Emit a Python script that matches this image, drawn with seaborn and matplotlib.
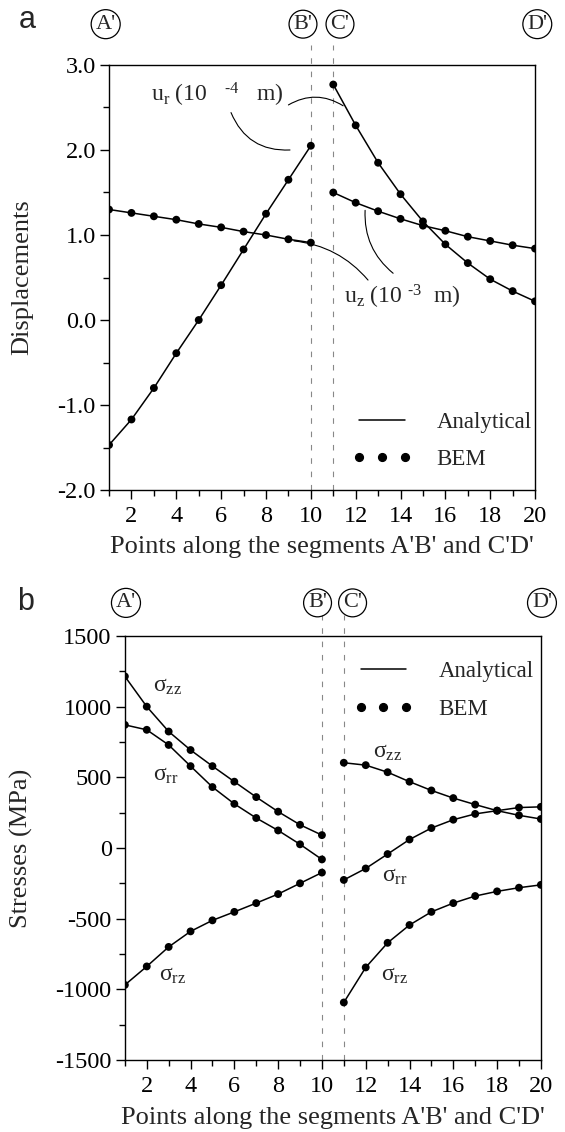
import matplotlib
matplotlib.use('Agg')
import matplotlib.pyplot as plt
import matplotlib.transforms as mtransforms
from matplotlib.lines import Line2D
from matplotlib.ticker import MultipleLocator, FormatStrFormatter
import seaborn as sns

# Points along the segments A'B' (1-10) and C'D' (11-20)
x_ab = [1, 2, 3, 4, 5, 6, 7, 8, 9, 10]
x_cd = [11, 12, 13, 14, 15, 16, 17, 18, 19, 20]

# (a) displacements: ur in 1e-4 m, uz in 1e-3 m
ur_ab = [-1.47, -1.17, -0.80, -0.39, 0.00, 0.41, 0.83, 1.25, 1.65, 2.05]
ur_cd = [2.77, 2.29, 1.85, 1.48, 1.16, 0.89, 0.67, 0.48, 0.34, 0.22]
uz_ab = [1.30, 1.26, 1.22, 1.18, 1.13, 1.09, 1.04, 1.00, 0.95, 0.91]
uz_cd = [1.50, 1.38, 1.28, 1.19, 1.11, 1.05, 0.98, 0.93, 0.88, 0.84]

# (b) stresses in MPa
szz_ab = [1214, 1000, 824, 693, 579, 469, 360, 257, 164, 91]
srr_ab = [871, 836, 729, 579, 431, 312, 212, 124, 26, -81]
srz_ab = [-969, -838, -700, -590, -512, -452, -390, -326, -250, -174]
szz_cd = [603, 586, 536, 469, 407, 353, 307, 264, 231, 205]
srr_cd = [-226, -145, -43, 60, 141, 200, 241, 264, 286, 291]
srz_cd = [-1093, -845, -671, -545, -452, -390, -340, -307, -281, -261]

point_names = ["A'", "B'", "C'", "D'"]

sns.set_theme(style='ticks')
plt.rcParams.update({
    'font.size': 16,
    'axes.unicode_minus': False,
    'axes.linewidth': 1.0,
    'axes.edgecolor': 'black',
    'xtick.color': 'black',
    'ytick.color': 'black',
    'xtick.direction': 'out',
    'ytick.direction': 'out',
    'mathtext.fontset': 'custom',
    'mathtext.rm': 'Liberation Serif',
    'mathtext.it': 'Liberation Serif:italic',
})
plt.rcParams['font.family'] = ['Liberation Serif', 'DejaVu Serif']

fig = plt.figure(figsize=(5.65, 11.32), dpi=100)
ax_a = fig.add_axes([0.193, 0.5671, 0.754, 0.3755])
ax_b = fig.add_axes([0.221, 0.0636, 0.7363, 0.3746])


def draw_series(ax, x, y):
    sns.lineplot(x=x, y=y, ax=ax, color='black', lw=1.1, legend=False)
    sns.scatterplot(x=x, y=y, ax=ax, color='black', s=32, edgecolor='none',
                    legend=False, zorder=3)


def style_axes(ax, ymaj, ymin, fmt):
    ax.set_xlim(1, 20)
    ax.xaxis.set_major_locator(MultipleLocator(2))
    ax.xaxis.set_minor_locator(MultipleLocator(1))
    ax.yaxis.set_major_locator(MultipleLocator(ymaj))
    ax.yaxis.set_minor_locator(MultipleLocator(ymin))
    ax.yaxis.set_major_formatter(FormatStrFormatter(fmt))
    ax.tick_params(which='major', length=6.5, width=1.0, labelsize=17.5)
    ax.tick_params(axis='x', which='major', pad=5)
    ax.tick_params(axis='y', which='major', pad=3)
    ax.tick_params(which='minor', length=4.5, width=1.0)
    for s in ax.spines.values():
        s.set_visible(True)
        s.set_color('black')
    ax.set_xlabel("Points along the segments A'B' and C'D'", fontsize=19)


def marks(ax, label_x, label_y, dash_top):
    trans = mtransforms.blended_transform_factory(ax.transData, ax.transAxes)
    for xv in (10, 11):
        ax.axvline(xv, ymin=0, ymax=dash_top, color='#888888', lw=0.8,
                   ls=(0, (5, 7)), clip_on=False, zorder=1)
    for name, xv in zip(point_names, label_x):
        ax.text(xv, label_y, name, transform=trans, ha='center', va='center',
                fontsize=16,
                bbox=dict(boxstyle='circle,pad=0.2', fc='none', ec='black', lw=0.9))


def leader(ax, start, end, rad):
    ax.annotate('', xy=end, xytext=start,
                arrowprops=dict(arrowstyle='-', lw=0.8, color='black',
                                connectionstyle=f'arc3,rad={rad}',
                                shrinkA=0, shrinkB=0))


legend_handles = [Line2D([], [], color='black', lw=1.1),
                  Line2D([], [], color='black', marker='o', ls='none', ms=5.6)]

# ---- panel a ----
for xs, ys in [(x_ab, ur_ab), (x_cd, ur_cd), (x_ab, uz_ab), (x_cd, uz_cd)]:
    draw_series(ax_a, xs, ys)
style_axes(ax_a, 1.0, 0.5, '%.1f')
ax_a.set_ylim(-2.0, 3.0)
ax_a.set_ylabel('Displacements', fontsize=19)
ax_a.yaxis.set_label_coords(-0.178, 0.5)
ax_a.xaxis.set_label_coords(0.5, -0.108)
marks(ax_a, [0.85, 9.65, 11.3, 20.1], 1.096, 1.047)

ax_a.text(5.85, 2.65, 'u$_\\mathregular{r}$ (10   $^{\\mathregular{\u2011 4}}$   m)',
          ha='center', va='center', fontsize=17)
leader(ax_a, (6.44, 2.44), (9.07, 2.0), 0.35)
leader(ax_a, (9.0, 2.53), (11.44, 2.52), -0.3)
ax_a.text(14.1, 0.27, 'u$_\\mathregular{z}$ (10 $^{\\mathregular{\u2011 3}}$  m)',
          ha='center', va='center', fontsize=17)
leader(ax_a, (9.25, 0.93), (12.55, 0.47), -0.2)
leader(ax_a, (12.42, 1.29), (13.67, 0.55), 0.25)

ax_a.legend(legend_handles, ['Analytical', 'BEM'], loc='lower left',
            bbox_to_anchor=(0.57, 0.047), frameon=False, numpoints=3,
            handlelength=2.6, handletextpad=1.1, labelspacing=0.7,
            fontsize=16.5, borderpad=0, borderaxespad=0)

# ---- panel b ----
for xs, ys in [(x_ab, szz_ab), (x_ab, srr_ab), (x_ab, srz_ab),
               (x_cd, szz_cd), (x_cd, srr_cd), (x_cd, srz_cd)]:
    draw_series(ax_b, xs, ys)
style_axes(ax_b, 500, 250, '%d')
ax_b.set_ylim(-1500, 1500)
ax_b.set_ylabel('Stresses (MPa)', fontsize=19)
ax_b.yaxis.set_label_coords(-0.221, 0.5)
ax_b.xaxis.set_label_coords(0.5, -0.111)
marks(ax_b, [1.05, 9.8, 11.4, 20.05], 1.078, 1.05)

for tx, ty, sub in [(2.96, 1139, 'zz'), (13.0, 672, 'zz'),
                    (2.87, 516, 'rr'), (13.33, -205, 'rr'),
                    (3.2, -899, 'rz'), (13.33, -899, 'rz')]:
    ax_b.text(tx, ty, 'σ$_\\mathregular{' + sub + '}$', ha='center',
              va='center', fontsize=17)

ax_b.legend(legend_handles, ['Analytical', 'BEM'], loc='upper left',
            bbox_to_anchor=(0.55, 0.94), frameon=False, numpoints=3,
            handlelength=2.6, handletextpad=1.1, labelspacing=0.7,
            fontsize=16.5, borderpad=0, borderaxespad=0)

fig.text(0.048, 0.982, 'a', family=['Liberation Sans', 'DejaVu Sans'],
         fontsize=22, ha='center', va='center')
fig.text(0.045, 0.468, 'b', family=['Liberation Sans', 'DejaVu Sans'],
         fontsize=22, ha='center', va='center')

fig.savefig('out.png', dpi=100)
